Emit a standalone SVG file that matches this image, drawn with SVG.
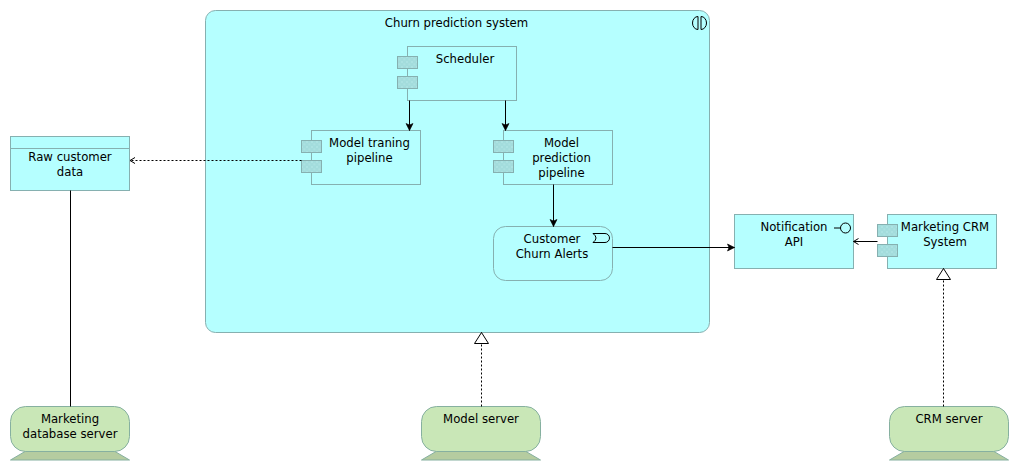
<svg xmlns="http://www.w3.org/2000/svg" width="1019" height="471" viewBox="0 0 1019 471">
<style>
.n{fill:#b5ffff;stroke:#86b0b0;stroke-width:1}
.p{fill:url(#dots);stroke:#86b0b0;stroke-width:1}
.g{fill:#c9e7b7;stroke:#86b0a0;stroke-width:1}
.b{fill:#b5ccA0;stroke:#86b0a0;stroke-width:1}
.i{fill:none;stroke:#000;stroke-width:1}
text{font-family:"DejaVu Sans",sans-serif;font-size:11.700px;fill:#000;text-anchor:middle}
.c{fill:none;stroke:#000;stroke-width:1}
.d{fill:none;stroke:#000;stroke-width:1;stroke-dasharray:2 2}
</style>
<defs>
<pattern id="dots" patternUnits="userSpaceOnUse" width="5" height="5" x="0.500" y="0.500"><rect width="5" height="5" fill="#a3dcdc"/><rect x="1" y="1" width="0.800" height="0.800" fill="#dff"/><rect x="3.500" y="3.500" width="0.800" height="0.800" fill="#dff"/></pattern>
<marker id="fill" markerUnits="userSpaceOnUse" markerWidth="10" markerHeight="10" refX="8" refY="5" orient="auto"><path d="M1 1.500L8 5L1 8.500L2.500 5Z" fill="#000" stroke="#000" stroke-width="0.600"/></marker>
<marker id="open" markerUnits="userSpaceOnUse" markerWidth="10" markerHeight="10" refX="7" refY="5" orient="auto"><path d="M2 2L7 5L2 8" fill="none" stroke="#000"/></marker>
<marker id="tri" markerUnits="userSpaceOnUse" markerWidth="16" markerHeight="16" refX="12" refY="8" orient="auto"><path d="M1 1L12 8L1 15Z" fill="#fff" stroke="#000"/></marker>
</defs>
<g id="churn-system"><rect class="n" x="205.500" y="10.500" width="504" height="322" rx="10"/>
<text x="456.500" y="27">Churn prediction system</text>
<path class="i" d="M698 16.500A5.500 6.500 0 0 0 698 29.500ZM701 16.500A5.500 6.500 0 0 1 701 29.500Z"/></g>
<g id="scheduler"><rect class="n" x="407.500" y="46.500" width="109" height="54"/><rect class="p" x="397.500" y="56.500" width="20" height="12"/><rect class="p" x="397.500" y="76.500" width="20" height="12"/><text x="465" y="63">Scheduler</text></g>
<g id="training"><rect class="n" x="311.500" y="130.500" width="109" height="54"/><rect class="p" x="301.500" y="140.500" width="20" height="12"/><rect class="p" x="301.500" y="160.500" width="20" height="12"/><text x="369.500" y="147">Model traning</text><text x="369.500" y="162">pipeline</text></g>
<g id="prediction"><rect class="n" x="503.500" y="130.500" width="109" height="54"/><rect class="p" x="493.500" y="140.500" width="20" height="12"/><rect class="p" x="493.500" y="160.500" width="20" height="12"/><text x="561.500" y="147">Model</text><text x="561.500" y="162">prediction</text><text x="561.500" y="177">pipeline</text></g>
<g id="alerts"><rect class="n" x="493.500" y="226.500" width="119" height="54" rx="12"/><text x="552" y="243">Customer</text><text x="552" y="258">Churn Alerts</text>
<path class="i" d="M593 233.500H605A4.500 4.500 0 0 1 605 242.500H593Q599 238 593 233.500Z"/></g>
<g id="raw-data"><rect class="n" x="10.500" y="136.500" width="119" height="54"/><path class="n" d="M10.500 148.500H129.500"/><text x="70" y="161">Raw customer</text><text x="70" y="176">data</text></g>
<g id="notification"><rect class="n" x="734.500" y="214.500" width="119" height="54"/><text x="794" y="231">Notification</text><text x="794" y="246">API</text>
<circle class="i" cx="845.500" cy="228" r="5"/><path class="i" d="M834 228H840.500"/></g>
<g id="crm"><rect class="n" x="887.500" y="214.500" width="109" height="54"/><rect class="p" x="877.500" y="224.500" width="20" height="12"/><rect class="p" x="877.500" y="244.500" width="20" height="12"/><text x="945" y="231">Marketing CRM</text><text x="945" y="246">System</text></g>
<g id="db-server"><path class="b" d="M25 451.500H115L129.500 460H10.500Z"/><rect class="g" x="10.500" y="406.500" width="119" height="45" rx="15"/><text x="70" y="423">Marketing</text><text x="70" y="438">database server</text></g>
<g id="model-server"><path class="b" d="M436 451.500H526L540.500 460H421.500Z"/><rect class="g" x="421.500" y="406.500" width="119" height="45" rx="15"/><text x="481" y="423">Model server</text></g>
<g id="crm-server"><path class="b" d="M904 451.500H994L1008.500 460H889.500Z"/><rect class="g" x="889.500" y="406.500" width="119" height="45" rx="15"/><text x="949" y="423">CRM server</text></g>
<g id="connectors">
<path class="c" marker-end="url(#fill)" d="M409.500 100.500V130.500"/>
<path class="c" marker-end="url(#fill)" d="M505.500 100.500V130.500"/>
<path class="c" marker-end="url(#fill)" d="M553.500 184.500V226.500"/>
<path class="c" marker-end="url(#fill)" d="M612.500 247.500H734.500"/>
<path class="c" marker-end="url(#open)" d="M877.500 241.500H853.500"/>
<path class="d" marker-end="url(#open)" d="M301.500 160.500H130"/>
<path class="c" d="M70.500 190.500V406.500"/>
<path class="d" marker-end="url(#tri)" d="M481.500 406.500V332.500"/>
<path class="d" marker-end="url(#tri)" d="M943.500 406.500V268.500"/>
</g>
</svg>
